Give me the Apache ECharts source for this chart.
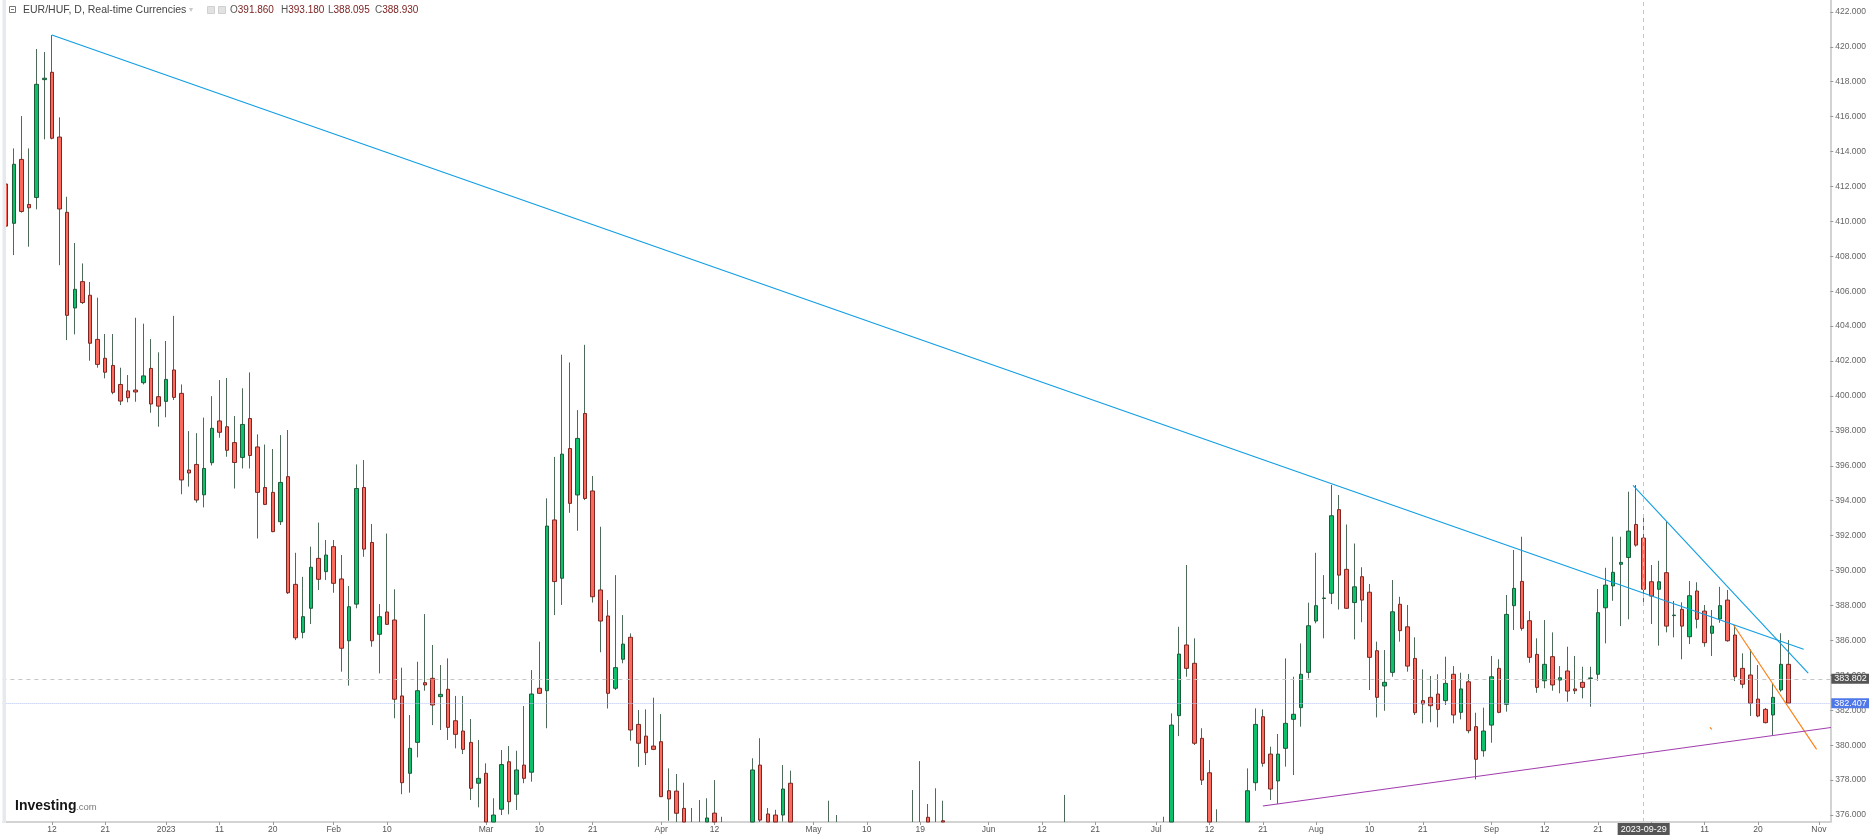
<!DOCTYPE html>
<html>
<head>
<meta charset="utf-8">
<script src="https://cdn.jsdelivr.net/npm/echarts@6/dist/echarts.min.js"></script>
<style>
html,body{margin:0;padding:0;background:#fff;}
#c{width:1869px;height:835px;}
</style>
</head>
<body>
<div id="c"></div>
<script>
// ---------- DATA ----------
// Trading days (weekdays) starting 2022-12-02; index 0 of the OHLC arrays = 2022-12-02
const firstDay = '2022-12-02';
const categoryCount = 240;

const opens = [
412.14,409.89,413.55,410.97,411.37,418.12,418.54,414.83,410.52,405.04,
406.55,405.77,403.24,402.16,401.75,400.66,400.29,400.34,400.76,401.58,
399.96,399.69,401.49,400.15,395.76,396.08,394.34,396.18,398.57,398.24,
397.33,396.48,398.71,397.08,394.76,394.48,392.80,395.38,389.21,386.46,
387.84,390.70,389.94,391.37,389.52,385.98,388.08,394.76,391.61,386.35,
387.63,387.17,382.82,378.39,380.16,383.58,383.83,382.78,383.20,381.40,
380.81,380.16,377.82,378.39,375.30,376.33,379.05,377.19,378.86,378.45,
383.26,383.12,392.90,389.56,396.99,394.33,399.00,394.56,388.89,387.40,
383.26,384.92,386.18,381.19,380.52,379.95,380.20,377.39,377.37,376.38,
375.30,375.10,374.80,376.11,374.30,373.60,373.00,374.00,374.60,378.86,
376.06,376.00,376.00,377.82,374.80,374.00,374.90,374.20,373.40,374.50,
373.80,372.90,373.50,372.80,371.90,372.60,373.20,372.50,373.00,374.40,
374.90,375.87,374.50,375.67,375.30,374.40,373.60,373.10,372.30,371.70,
370.90,370.50,371.10,371.80,372.30,371.50,370.80,370.10,369.60,370.20,
371.80,371.00,370.40,371.00,371.50,371.20,370.60,370.00,370.80,371.20,
372.00,372.40,372.90,373.60,381.69,385.74,384.69,380.39,378.42,375.00,
374.20,373.60,374.10,374.80,377.85,381.63,379.49,377.95,379.82,381.48,
382.15,384.17,387.11,388.40,388.70,393.49,390.07,388.17,389.65,388.76,
385.41,383.39,384.17,388.07,386.78,384.97,382.55,382.74,382.93,382.55,
384.06,381.88,383.63,381.06,379.68,381.15,384.40,382.34,387.99,389.38,
387.13,385.20,383.69,385.07,383.73,384.25,383.22,383.60,383.82,384.06,
387.87,389.12,390.36,390.75,392.64,391.86,389.36,388.93,389.88,387.42,
387.78,386.21,388.83,387.68,386.41,387.23,388.31,386.31,384.40,384.02,
382.64,382.05,381.73,383.16,384.63
];
const highs = [
412.40,414.18,416.03,414.18,419.87,419.70,420.67,415.96,411.41,408.76,
407.59,406.53,405.63,403.55,403.55,401.62,401.20,404.48,404.14,403.26,
402.50,403.15,404.59,400.66,397.99,397.87,398.76,399.99,400.91,401.03,
398.85,400.44,401.35,397.80,397.22,396.96,397.76,398.05,391.02,389.64,
391.37,392.75,391.75,391.75,390.89,389.12,396.08,396.33,392.67,388.08,
392.12,388.93,384.44,381.73,384.78,387.51,385.74,384.59,384.97,382.82,
382.82,381.50,380.30,378.96,376.96,379.72,379.95,379.68,382.24,384.30,
385.93,394.14,396.51,402.36,401.92,399.19,402.93,395.42,392.51,388.31,
389.74,387.45,386.40,382.01,382.05,382.72,381.78,378.67,378.35,377.85,
376.40,376.86,376.96,378.00,375.90,375.00,374.80,375.20,379.25,380.40,
376.40,376.30,378.86,378.54,375.30,375.20,375.40,375.10,376.82,376.00,
374.60,374.00,374.30,373.60,373.20,373.80,374.10,373.50,374.90,377.43,
379.09,376.63,377.53,376.82,375.50,375.00,374.20,373.90,373.60,372.40,
371.80,371.60,372.20,372.80,373.00,372.30,371.40,371.00,370.60,377.15,
372.60,371.90,371.50,372.00,372.30,372.10,371.40,371.20,371.80,372.40,
373.00,373.50,375.90,381.82,386.78,390.32,386.12,380.97,379.15,376.33,
375.20,374.80,375.30,378.67,382.11,382.05,379.91,380.64,384.97,383.92,
385.83,388.16,391.02,389.74,394.90,394.33,392.64,391.55,390.19,389.23,
385.93,385.45,389.46,388.50,388.03,386.18,384.34,383.96,384.06,385.07,
384.53,384.15,384.08,381.86,382.15,385.11,384.92,388.60,391.18,391.94,
387.68,386.12,387.17,386.46,384.53,385.64,385.11,384.49,384.49,388.94,
390.16,391.94,391.94,394.52,394.90,393.18,390.32,390.56,392.80,388.26,
388.18,389.40,389.33,388.03,387.74,389.07,388.89,386.88,385.26,385.49,
384.59,382.13,383.54,386.41,386.02
];
const lows = [
409.50,408.07,410.50,408.55,410.69,414.70,414.70,407.49,403.20,403.53,
405.27,402.02,401.62,401.01,400.10,399.48,399.64,399.67,400.66,399.04,
398.24,398.78,399.77,394.37,394.81,393.89,393.62,396.02,397.61,396.52,
394.70,395.85,395.85,391.84,393.75,392.20,392.61,388.66,386.02,386.12,
386.94,388.89,389.46,388.73,384.21,383.41,387.84,390.79,385.64,384.11,
386.90,381.54,377.19,377.28,379.30,383.12,381.15,380.87,380.30,379.82,
379.49,376.86,376.44,374.80,374.80,376.00,376.04,376.29,377.82,377.91,
382.93,380.97,387.45,388.03,393.31,392.28,394.04,388.17,385.32,382.10,
383.16,384.69,380.26,378.76,378.86,379.72,377.03,375.67,375.50,374.90,
374.60,374.20,374.50,373.80,373.20,372.60,372.80,373.50,374.30,375.40,
374.50,374.20,375.62,374.50,373.60,373.50,373.90,373.00,373.00,373.20,
372.50,372.40,372.30,371.50,371.40,372.00,372.00,371.90,372.60,373.90,
374.10,374.00,374.10,374.60,374.00,373.20,372.70,371.90,371.20,370.40,
370.00,370.10,370.70,371.30,371.10,370.30,369.60,369.20,369.00,369.80,
370.50,369.90,369.90,370.40,370.60,370.10,369.50,369.60,370.30,370.90,
371.50,372.00,372.40,373.20,380.52,383.92,380.01,377.72,374.50,373.70,
373.10,373.00,373.70,374.40,377.39,378.77,376.86,376.63,378.77,378.29,
381.06,383.83,386.98,386.12,388.08,387.77,387.80,386.06,387.04,383.16,
381.59,381.97,383.92,385.93,384.21,381.73,381.25,381.31,381.02,382.30,
381.25,381.48,380.68,378.04,379.34,380.14,381.83,381.92,386.60,386.56,
384.72,383.00,383.26,383.12,382.97,382.49,382.93,382.68,382.20,383.69,
385.83,388.27,386.82,387.21,391.37,388.095,386.94,385.70,386.46,386.18,
384.92,385.79,386.69,385.64,385.11,387.01,385.93,383.67,383.26,381.67,
381.60,381.25,380.58,383.06,382.38
];
const closes = [
409.73,413.27,410.57,410.78,417.85,418.20,414.76,410.71,404.62,406.11,
405.35,403.02,401.81,401.36,400.21,399.71,399.90,400.23,401.15,399.54,
399.42,400.95,399.92,395.19,395.59,394.04,395.85,398.15,397.92,396.89,
396.19,398.37,396.59,394.48,393.79,392.23,395.05,388.73,386.15,387.36,
390.19,389.50,390.89,389.27,385.55,387.93,394.70,391.23,385.98,387.36,
386.92,382.63,377.85,379.82,383.12,383.45,382.30,382.91,381.02,380.62,
379.76,377.53,378.10,375.30,376.00,378.89,376.76,378.58,378.10,382.93,
382.97,392.55,389.37,396.67,393.85,397.57,394.13,388.50,387.11,382.97,
384.44,385.79,380.87,380.11,379.57,379.76,377.05,376.92,376.10,375.30,
375.00,374.80,375.83,374.20,373.60,373.00,374.00,374.60,378.58,375.71,
374.80,374.60,377.49,374.80,374.00,374.90,374.20,373.40,374.50,373.80,
372.90,373.50,372.80,371.90,372.60,373.20,372.50,373.00,374.40,374.90,
375.20,374.50,375.20,375.30,374.40,373.60,373.10,372.30,371.70,370.90,
370.50,371.10,371.80,372.30,371.50,370.80,370.10,369.60,370.20,371.80,
371.00,370.40,371.00,371.50,371.20,370.60,370.00,370.80,371.20,372.00,
372.40,372.90,373.60,381.15,385.22,384.40,380.11,378.00,375.00,374.20,
373.60,374.10,374.80,377.39,381.19,378.96,377.49,379.49,381.25,381.77,
384.06,386.84,387.99,388.43,393.14,389.74,387.84,389.07,388.31,385.03,
382.74,383.60,387.64,386.56,384.53,381.86,382.36,382.26,382.05,383.54,
381.73,383.22,380.83,379.19,380.81,383.92,381.88,387.49,388.98,386.69,
385.03,383.31,384.63,383.45,383.86,383.10,383.12,383.31,383.85,387.59,
389.17,389.90,390.47,392.26,391.46,388.93,388.54,389.36,386.82,387.45,
386.82,388.56,387.21,385.87,386.82,387.99,385.98,383.92,383.49,382.40,
381.67,381.29,382.74,384.63,382.407
];

// x-axis tick labels
const xTickDates = ['2022-12-12','2022-12-21','2023-01-02','2023-01-11','2023-01-20','2023-02-01','2023-02-10',
  '2023-03-01','2023-03-10','2023-03-21','2023-04-03','2023-04-12','2023-05-01','2023-05-10','2023-05-19',
  '2023-06-01','2023-06-12','2023-06-21','2023-07-03','2023-07-12','2023-07-21','2023-08-01','2023-08-10',
  '2023-08-21','2023-09-01','2023-09-12','2023-09-21','2023-10-02','2023-10-11','2023-10-20','2023-11-01'];
const xTickTexts = ['12','21','2023','11','20','Feb','10','Mar','10','21','Apr','12','May','10','19',
  'Jun','12','21','Jul','12','21','Aug','10','21','Sep','12','21','Oct','11','20','Nov'];
// y-axis tick values and visible range
const yTickValues = [376,378,380,382,384,386,388,390,392,394,396,398,400,402,404,406,408,410,412,414,416,418,420,422];
const yMin = 375.6, yMax = 422.68;

const lastPrice = 382.407;
const crossPrice = 383.802;
const crossDate = '2023-09-29';
const headerTitle = 'EUR/HUF, D, Real-time Currencies';
const headerO = '391.860', headerH = '393.180', headerL = '388.095', headerC = '388.930';

// Drawn trend lines: [trading-day index counted from 2022-12-12, price]
const trendLong = [[0, 420.67], [230.0, 385.49]];
const trendSteep = [[207.6, 394.88], [230.6, 384.12]];
const trendOrange = [[220.8, 386.88], [231.7, 379.76]];
const orangeMark = [[217.7, 381.02], [217.95, 380.90]];
const trendSupport = [[159.0, 376.52], [235.1, 381.10]];

// ---------- BUILD ----------
const dates = [];
(function(){
  let t = Date.parse(firstDay + 'T00:00:00Z');
  while (dates.length < categoryCount) {
    const d = new Date(t);
    const wd = d.getUTCDay();
    if (wd !== 0 && wd !== 6) dates.push(d.toISOString().slice(0, 10));
    t += 86400000;
  }
})();
const tickMap = {};
xTickDates.forEach((d, i) => { tickMap[d] = xTickTexts[i]; });
const tickFn = (idx, val) => Object.prototype.hasOwnProperty.call(tickMap, val);

// candles are cut at the bottom edge of the plot (the visible price range)
const cut = v => Math.max(v, yMin);
const wicks = opens.map((o, i) => highs[i] < yMin ? '-' : [cut(o), cut(closes[i]), cut(lows[i]), highs[i]]);
const bodies = opens.map((o, i) => {
  const c = closes[i];
  if (Math.max(o, c) < yMin) return '-';
  return [cut(o), cut(c), cut(Math.min(o, c)), Math.max(o, c)];
});

const AXF = '"Liberation Sans Narrow", "Liberation Sans", Arial, sans-serif';
const TXF = '"Liberation Sans", Arial, sans-serif';
const WICK = '#4d6b58';
const UP = '#0cc06c', DOWN = '#fb6a5d', UPB = '#1e5a3a', DOWNB = '#7e2722';

function trend(data, color) {
  return {
    type: 'line', xAxisIndex: 1, yAxisIndex: 0, data: data, symbol: 'none', showSymbol: false,
    clip: false, silent: true, animation: false, z: 6,
    lineStyle: { color: color, width: 1.1 }
  };
}

const chart = echarts.init(document.getElementById('c'), null, { renderer: 'canvas' });
chart.setOption({
  animation: false,
  backgroundColor: '#ffffff',
  grid: { left: 2.4, right: 35.4, top: 0, bottom: 13, containLabel: false },
  xAxis: [{
    type: 'category', data: dates, boundaryGap: true,
    axisLine: { show: true, onZero: false, lineStyle: { color: '#d3d3d3', width: 2 } },
    axisTick: { show: true, alignWithLabel: true, interval: tickFn, length: 3, lineStyle: { color: '#9a9a9a' } },
    axisLabel: { interval: tickFn, formatter: v => tickMap[v] || '', fontSize: 8.5, color: '#555', margin: 3, fontFamily: AXF },
    splitLine: { show: false }
  }, {
    type: 'value', min: -6.5, max: 233.5, show: false,
    axisLine: { show: false, onZero: false }, splitLine: { show: false }
  }],
  yAxis: [{
    type: 'value', position: 'right', min: yMin, max: yMax,
    splitLine: { show: false },
    axisLine: { show: true, onZero: false, lineStyle: { color: '#d3d3d3', width: 2 } },
    axisTick: { show: true, customValues: yTickValues, length: 3, lineStyle: { color: '#9a9a9a' } },
    axisLabel: { customValues: yTickValues, formatter: v => v.toFixed(3), fontSize: 8.5, color: '#666', margin: 5, fontFamily: AXF }
  }],
  series: [
    {
      type: 'candlestick', name: 'wick', data: wicks, barWidth: 0, silent: true, z: 2,
      itemStyle: { color: WICK, color0: WICK, borderColor: WICK, borderColor0: WICK, borderWidth: 1 }
    },
    {
      type: 'candlestick', name: 'EUR/HUF', data: bodies, barWidth: 4, silent: true, z: 3,
      itemStyle: { color: UP, color0: DOWN, borderColor: UPB, borderColor0: DOWNB, borderWidth: 1 },
      markLine: {
        silent: true, symbol: ['none', 'none'], animation: false, precision: 3,
        data: [
          { yAxis: lastPrice,
            lineStyle: { color: '#b3c4f4', type: 'dotted', width: 1 },
            label: { show: true, position: 'end', distance: 1, formatter: lastPrice.toFixed(3), color: '#fff',
              backgroundColor: '#4e77ea', padding: [1, 3, 0, 3], fontSize: 9, lineHeight: 9, fontFamily: AXF } },
          { yAxis: crossPrice,
            lineStyle: { color: '#c6c6c6', type: [4, 4], width: 1 },
            label: { show: true, position: 'end', distance: 1, formatter: crossPrice.toFixed(3), color: '#fff',
              backgroundColor: '#555555', padding: [1, 3, 0, 3], fontSize: 9, lineHeight: 9, fontFamily: AXF } },
          { xAxis: crossDate,
            lineStyle: { color: '#c6c6c6', type: [4, 4], width: 1 },
            label: { show: true, position: 'start', distance: 1, formatter: crossDate, color: '#fff',
              backgroundColor: '#555555', padding: [2, 3, 1, 3], fontSize: 9, lineHeight: 10, fontFamily: AXF } }
        ]
      }
    },
    trend(trendLong, '#0f9de3'),
    trend(trendSteep, '#0f9de3'),
    trend(trendOrange, '#ff7d0f'),
    trend(orangeMark, '#ff7d0f'),
    trend(trendSupport, '#a13cae')
  ],
  graphic: [
    { type: 'rect', shape: { x: 0, y: 0, width: 2.5, height: 835 }, style: { fill: '#ffffff' }, z: 100 },
    { type: 'rect', shape: { x: 2.5, y: 0, width: 3.5, height: 823 }, style: { fill: '#e6e9ee' }, z: 100 },
    // header
    { type: 'rect', shape: { x: 9.5, y: 6.5, width: 6, height: 6 }, style: { fill: '#fff', stroke: '#777', lineWidth: 1 }, z: 100 },
    { type: 'line', shape: { x1: 11, y1: 9.5, x2: 14, y2: 9.5 }, style: { stroke: '#777', lineWidth: 1 }, z: 100 },
    { type: 'text', x: 23, y: 10, style: { text: headerTitle, fill: '#444', font: '10.5px ' + TXF, verticalAlign: 'middle' }, z: 100 },
    { type: 'text', x: 189, y: 10, style: { text: '▾', fill: '#c8c8c8', font: '8px ' + TXF, verticalAlign: 'middle' }, z: 100 },
    { type: 'rect', shape: { x: 207.5, y: 6.5, width: 7, height: 7 }, style: { fill: '#e2e2e2', stroke: '#d0d0d0' }, z: 100 },
    { type: 'rect', shape: { x: 218.5, y: 6.5, width: 7, height: 7 }, style: { fill: '#e2e2e2', stroke: '#d0d0d0' }, z: 100 },
    { type: 'text', x: 230, y: 10, style: { text: '{k|O}{v|' + headerO + '}', rich: { k: { fill: '#555', font: '10px ' + TXF }, v: { fill: '#7a1c1c', font: '10px ' + TXF } }, verticalAlign: 'middle' }, z: 100 },
    { type: 'text', x: 281, y: 10, style: { text: '{k|H}{v|' + headerH + '}', rich: { k: { fill: '#555', font: '10px ' + TXF }, v: { fill: '#7a1c1c', font: '10px ' + TXF } }, verticalAlign: 'middle' }, z: 100 },
    { type: 'text', x: 328, y: 10, style: { text: '{k|L}{v|' + headerL + '}', rich: { k: { fill: '#555', font: '10px ' + TXF }, v: { fill: '#7a1c1c', font: '10px ' + TXF } }, verticalAlign: 'middle' }, z: 100 },
    { type: 'text', x: 375, y: 10, style: { text: '{k|C}{v|' + headerC + '}', rich: { k: { fill: '#555', font: '10px ' + TXF }, v: { fill: '#7a1c1c', font: '10px ' + TXF } }, verticalAlign: 'middle' }, z: 100 },
    // logo
    { type: 'text', x: 15, y: 813, style: { text: 'Investing', fill: '#151515', font: 'bold 14px ' + TXF, verticalAlign: 'bottom' }, z: 100 },
    { type: 'text', x: 76, y: 812, style: { text: '.com', fill: '#7a7a7a', font: '9.5px ' + TXF, verticalAlign: 'bottom' }, z: 100 }
  ]
});
</script>
</body>
</html>
